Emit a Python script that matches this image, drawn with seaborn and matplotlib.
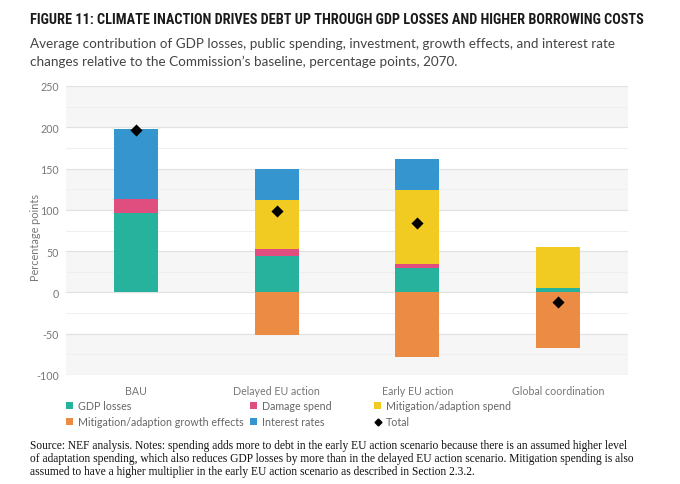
import numpy as np
import pandas as pd
import matplotlib
matplotlib.use('Agg')
import matplotlib.pyplot as plt
import seaborn as sns
from matplotlib.lines import Line2D
from matplotlib.patches import Patch
from matplotlib import font_manager as fm

# data (percentage points, 2070)
scenarios = ['BAU', 'Delayed EU action', 'Early EU action', 'Global coordination']
gdp_losses = [96, 44, 29, 5]
damage_spend = [17, 8, 5, 0]
mitigation_spend = [0, 60, 90, 50]
interest_rates = [85, 38, 38, 0]
growth_effects = [0, -51, -78, -67]
total = [197, 99, 84, -12]

colors = {
    'GDP losses': '#27b29e',
    'Damage spend': '#df4e7f',
    'Mitigation/adaption spend': '#f2cb22',
    'Mitigation/adaption growth effects': '#ec8b44',
    'Interest rates': '#3596cf',
}

sns.set_theme(style='white')
plt.rcParams['font.family'] = ['Lato', 'DejaVu Sans']
plt.rcParams['axes.unicode_minus'] = False

fig = plt.figure(figsize=(6.8, 4.85), dpi=100)
ax = fig.add_axes([66/680, 1-376/485, (628-66)/680, (376-87)/485])

# alternating background bands + grid
for lo, hi in [(-100, -50), (0, 50), (100, 150), (200, 250)]:
    ax.axhspan(lo, hi, color='#f6f6f6', lw=0, zorder=0)
for v in range(-100, 251, 50):
    ax.axhline(v, color='#e2e2e2', lw=0.9, zorder=0.5)
for v in range(-75, 250, 50):
    ax.axhline(v, color='#efefef', lw=0.7, zorder=0.5)

x = np.arange(len(scenarios))
w = 0.31
pos_layers = [('GDP losses', gdp_losses), ('Damage spend', damage_spend),
              ('Mitigation/adaption spend', mitigation_spend), ('Interest rates', interest_rates)]
bottom = np.zeros(len(scenarios))
for name, vals in pos_layers:
    vals = np.array(vals, dtype=float)
    ax.bar(x, vals, w, bottom=bottom, color=colors[name], lw=0, zorder=2)
    bottom += vals
ax.bar(x, growth_effects, w, color=colors['Mitigation/adaption growth effects'], lw=0, zorder=2)

df_tot = pd.DataFrame({'x': x, 'total': total})
sns.scatterplot(data=df_tot, x='x', y='total', marker='D', color='black', s=38,
                edgecolor='black', linewidth=0, zorder=3, ax=ax, legend=False)

ax.set_xlim(-0.5, 3.5)
ax.set_ylim(-100, 250)
ax.set_yticks(range(-100, 251, 50))
ax.set_xticks(x)
ax.set_xticklabels(scenarios)
ax.set_xlabel('')
ax.set_ylabel('Percentage points', fontsize=7.8, color='#777777')
ax.yaxis.set_label_coords(-0.045, 0.48)
ax.tick_params(axis='both', labelsize=7.7, colors='#777777', length=0)
ax.tick_params(axis='x', pad=7)
ax.tick_params(axis='y', pad=5)
for s in ax.spines.values():
    s.set_visible(False)

# legend, three columns placed by hand
leg_cols = [
    [('GDP losses', 'patch'), ('Mitigation/adaption growth effects', 'patch')],
    [('Damage spend', 'patch'), ('Interest rates', 'patch')],
    [('Mitigation/adaption spend', 'patch'), ('Total', 'marker')],
]
col_x = [66, 250, 374]
for cx, items in zip(col_x, leg_cols):
    handles = []
    for name, kind in items:
        if kind == 'patch':
            handles.append(Patch(facecolor=colors[name], edgecolor='none', label=name))
        else:
            handles.append(Line2D([], [], marker='D', color='black', lw=0, markersize=3.5, label=name))
    lg = fig.legend(handles=handles, loc='upper left', bbox_to_anchor=(cx/680, 1-401/485),
                    frameon=False, fontsize=7.7, handlelength=0.7, handleheight=0.7,
                    handletextpad=0.45, labelspacing=0.5, borderaxespad=0, borderpad=0)
    for t in lg.get_texts():
        t.set_color('#666666')

# condensed bold title if a narrow face exists, fitted to the reference width
names = {f.name for f in fm.fontManager.ttflist}
title_fam = 'Liberation Sans'
for cand in ['Liberation Sans Narrow', 'DejaVu Sans Condensed', 'Roboto Condensed', 'Open Sans Condensed']:
    if cand in names:
        title_fam = cand
        break
title = fig.text(30/680, 1-20/485,
                 'FIGURE 11: CLIMATE INACTION DRIVES DEBT UP THROUGH GDP LOSSES AND HIGHER BORROWING COSTS',
                 fontsize=10, fontweight='bold', color='#1a1a1a', va='center', family=title_fam)
fig.canvas.draw()
tw = title.get_window_extent().width
title.set_fontsize(10 * 613 / tw)

fig.text(30/680, 1-44/485,
         'Average contribution of GDP losses, public spending, investment, growth effects, and interest rate',
         fontsize=9.7, color='#444444', va='center')
fig.text(30/680, 1-62/485,
         'changes relative to the Commission\u2019s baseline, percentage points, 2070.',
         fontsize=9.7, color='#444444', va='center')

source = ('Source: NEF analysis. Notes: spending adds more to debt in the early EU action scenario because there is an assumed higher level\n'
          'of adaptation spending, which also reduces GDP losses by more than in the delayed EU action scenario. Mitigation spending is also\n'
          'assumed to have a higher multiplier in the early EU action scenario as described in Section 2.3.2.')
fig.text(30/680, 1-440/485, source, fontsize=8.3, color='#111111', va='top',
         family=['Liberation Serif', 'DejaVu Serif'], linespacing=1.13)

fig.savefig('out.png', dpi=100, facecolor='white')
